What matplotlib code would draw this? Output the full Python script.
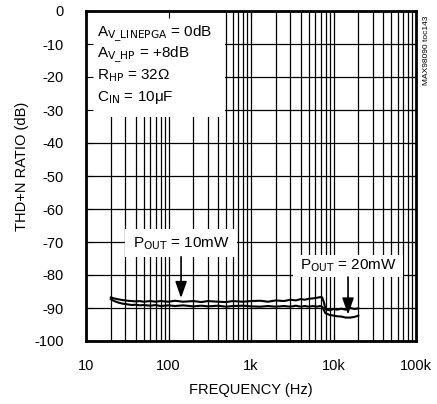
import matplotlib
matplotlib.use("Agg")
import matplotlib.pyplot as plt
from matplotlib.patches import Rectangle

plt.rcParams['font.family'] = ['Liberation Sans Narrow', 'Liberation Sans', 'DejaVu Sans']
plt.rcParams['mathtext.fontset'] = 'custom'
plt.rcParams['mathtext.rm'] = 'Liberation Sans Narrow'
plt.rcParams['mathtext.it'] = 'Liberation Sans Narrow:italic'
plt.rcParams['mathtext.bf'] = 'Liberation Sans Narrow:bold'

# Data
freq_a = [20, 22, 25, 28, 32, 36, 40, 45, 50, 60, 70, 80, 100, 120, 150, 200, 250, 300,
          400, 500, 600, 800, 1000, 1300, 1600, 2000, 2500, 3000, 3500, 4000, 4500, 5000,
          5600, 6300, 6900, 7300, 7700, 8000, 9000, 10000, 11000, 12500, 14000, 16000, 18000, 20000]
thdn_a = [-86.8, -87.1, -87.4, -87.6, -87.8, -87.9, -88.0, -87.9, -88.1, -87.9, -88.1, -87.9,
          -88.1, -87.8, -88.1, -87.9, -88.2, -87.9, -88.1, -88.2, -87.9, -88.1, -87.9, -87.8,
          -88.1, -87.7, -87.9, -87.5, -87.7, -87.3, -87.5, -87.2, -87.1, -86.9, -86.7, -86.8,
          -88.5, -90.4, -90.7, -90.3, -90.5, -90.2, -90.5, -90.0, -90.3, -90.1]

freq_b = [20, 22, 25, 28, 32, 36, 40, 45, 50, 60, 70, 80, 100, 120, 150, 200, 250, 300,
          400, 500, 600, 800, 1000, 1300, 1600, 2000, 2500, 3000, 3500, 4000, 4500, 5000,
          5600, 6300, 6900, 7300, 7700, 8000, 9000, 10000, 11000, 12500, 14000, 16000, 18000, 20000]
thdn_b = [-87.3, -87.9, -88.4, -88.7, -88.9, -89.1, -89.0, -89.2, -89.1, -89.3, -89.1, -89.4,
          -89.2, -89.4, -89.2, -89.5, -89.3, -89.5, -89.3, -89.6, -89.4, -89.3, -89.5, -89.6,
          -89.4, -89.6, -89.4, -89.6, -89.3, -89.6, -89.4, -89.6, -89.4, -89.6, -89.4, -89.6,
          -90.8, -91.6, -92.1, -92.3, -92.5, -92.6, -92.9, -92.9, -92.7, -92.3]

y_ticks = [0, -10, -20, -30, -40, -50, -60, -70, -80, -90, -100]
x_ticks = [10, 100, 1000, 10000, 100000]
x_ticklabels = ['10', '100', '1k', '10k', '100k']

fig = plt.figure(figsize=(4.37, 4.04), dpi=100)
ax = fig.add_axes([86/437, 1-341/404, 330/437, 330/404])
ax.set_xscale('log')
ax.set_xlim(10, 100000)
ax.set_ylim(-100, 0)

# grid
for dec in [10, 100, 1000, 10000]:
    for m in range(1, 10):
        ax.axvline(dec*m, color='black', lw=0.9, zorder=0.5)
for yv in y_ticks:
    ax.axhline(yv, color='black', lw=0.9, zorder=0.5)

# white label boxes
ax.add_patch(Rectangle((10, -32), 484-10, 32, facecolor='white', edgecolor='none', zorder=1))
ax.add_patch(Rectangle((29.7, -74.5), 676-29.7, 8.4, facecolor='white', edgecolor='none', zorder=1))
ax.add_patch(Rectangle((3230, -80.6), 69500-3230, 6.6, facecolor='white', edgecolor='none', zorder=1))

ax.plot(freq_a, thdn_a, color='black', lw=1.5, zorder=3)
ax.plot(freq_b, thdn_b, color='black', lw=1.5, zorder=3)

ax.set_xticks(x_ticks)
ax.set_xticklabels(x_ticklabels)
ax.set_yticks(y_ticks)
ax.set_yticklabels([str(v) for v in y_ticks])
ax.xaxis.set_minor_locator(matplotlib.ticker.NullLocator())
ax.tick_params(axis='both', which='both', direction='in', length=5, width=0.8,
               top=True, right=True, labelsize=10.5)
ax.tick_params(axis='x', pad=13)
ax.tick_params(axis='y', pad=16)
for s in ax.spines.values():
    s.set_linewidth(2.0)
    s.set_zorder(4)

fig.text(22/437, 1-166/404, 'THD+N RATIO (dB)', rotation=90, ha='center', va='center', fontsize=10.5)
fig.text(251/437, 1-390/404, 'FREQUENCY (Hz)', ha='center', va='center', fontsize=10.5)
fig.text(426/437, 1-50/404, 'MAX98090 toc143', rotation=90, ha='center', va='center', fontsize=6)

fs = 11
tx = 97/437
lines = [r'A$_{\mathrm{V\_LINEPGA}}$ = 0dB', r'A$_{\mathrm{V\_HP}}$ = +8dB',
         r'R$_{\mathrm{HP}}$ = 32Ω', r'C$_{\mathrm{IN}}$ = 10μF']
ys = [34, 55, 76, 97]
for t, yy in zip(lines, ys):
    fig.text(tx, 1-yy/404, t, ha='left', va='center', fontsize=fs, zorder=5)

ax.text(142, -70.6, r'P$_{\mathrm{OUT}}$ = 10mW', ha='center', va='center', fontsize=fs, zorder=5)
ax.text(15000, -77.3, r'P$_{\mathrm{OUT}}$ = 20mW', ha='center', va='center', fontsize=fs, zorder=5)

arrow = dict(arrowstyle='-|>,head_length=1.0,head_width=0.35', color='black', lw=1.2,
             shrinkA=0, shrinkB=0, mutation_scale=10)
ax.annotate('', xy=(142, -87.0), xytext=(142, -74.5), arrowprops=arrow, zorder=5)
ax.annotate('', xy=(15000, -92.0), xytext=(15000, -80.6), arrowprops=arrow, zorder=5)

fig.savefig('out.png', dpi=100)
